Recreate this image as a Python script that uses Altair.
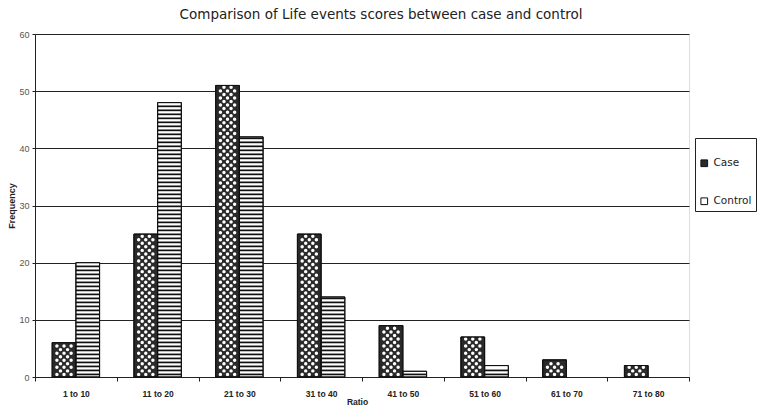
import altair as alt
import pandas as pd

# Life-event score bands and the number of subjects in each
categories = ["1 to 10", "11 to 20", "21 to 30", "31 to 40",
              "41 to 50", "51 to 60", "61 to 70", "71 to 80"]
case_freq = [6, 25, 51, 25, 9, 7, 3, 2]
control_freq = [20, 48, 42, 14, 1, 2, 0, 0]
series_names = ["Case", "Control"]

BAR_W = 0.29  # bar width in category units

# one row per bar, placed side by side around each category centre
rows = []
for i, (cat, a, b) in enumerate(zip(categories, case_freq, control_freq)):
    c = i + 0.5
    rows.append({"cat": cat, "series": "Case", "x0": c - BAR_W, "x1": c, "v": a})
    rows.append({"cat": cat, "series": "Control", "x0": c, "x1": c + BAR_W, "v": b})
bars = pd.DataFrame(rows)

# speckled fill for the Case bars: staggered white dots on a dark ground
dots = []
for r in rows:
    if r["series"] != "Case":
        continue
    k = 0
    y = 0.45
    while y < r["v"] - 0.3:
        fracs = [0.2, 0.5, 0.8] if k % 2 == 0 else [0.35, 0.65]
        for f in fracs:
            dots.append({"x": r["x0"] + f * BAR_W, "y": y})
        k += 1
        y += 0.62
dots = pd.DataFrame(dots)

# horizontal hatching for the Control bars
stripes = []
for r in rows:
    if r["series"] != "Control":
        continue
    y = 0.3
    while y + 0.3 < r["v"]:
        stripes.append({"x0": r["x0"], "x1": r["x1"], "y0": y, "y1": y + 0.3})
        y += 0.7
stripes = pd.DataFrame(stripes)

label_array = "[" + ",".join("'%s'" % c for c in categories) + "]"
x_values = [k / 2 for k in range(0, 17)]

x_scale = alt.Scale(domain=[0, 8], nice=False, zero=False)
y_scale = alt.Scale(domain=[0, 60], nice=False)

x_axis = alt.Axis(
    values=x_values,
    labelExpr="datum.value % 1 == 0.5 ? " + label_array + "[floor(datum.value)] : ''",
    tickOpacity={"condition": {"test": "datum.value % 1 == 0", "value": 1}, "value": 0},
    tickSize=4, tickColor="#222", domainColor="#222",
    labelFont="Liberation Sans", labelFontSize=8.5, labelFontWeight="bold",
    labelColor="#222", labelPadding=8, grid=False,
    title="Ratio", titleFont="Liberation Sans", titleFontSize=8.5,
    titleFontWeight="bold", titleColor="#222", titleX=322, titleY=20,
)
y_axis = alt.Axis(
    values=[0, 10, 20, 30, 40, 50, 60], tickSize=3, tickColor="#222",
    domainColor="#222", labelFont="Liberation Sans", labelFontSize=9,
    labelColor="#555", labelPadding=3,
    gridColor="#222", gridWidth=1,
    title="Frequency", titleFont="Liberation Sans", titleFontSize=9,
    titleFontWeight="bold", titleColor="#222", titlePadding=2,
)

fill_enc = alt.Fill(
    "series:N",
    scale=alt.Scale(domain=series_names, range=["#2a2a2a", "#ffffff"]),
    legend=alt.Legend(
        title=" ", titleFontSize=10, titlePadding=6,
        orient="none", legendX=660, legendY=104,
        symbolType="square", symbolSize=45, symbolStrokeColor="#111",
        symbolStrokeWidth=1, labelFont="DejaVu Sans", labelFontSize=10.5,
        labelColor="#222", rowPadding=26, padding=4, labelOffset=4,
        strokeColor="#222", fillColor="white",
    ),
)

# empty bands (zero counts) draw nothing
base_bars = alt.Chart(bars).transform_filter("datum.v > 0").mark_bar(
    stroke="#111", strokeWidth=1
).encode(
    x=alt.X("x0:Q", scale=x_scale, axis=x_axis),
    x2="x1:Q",
    y=alt.Y("v:Q", scale=y_scale, axis=y_axis),
    y2=alt.datum(0),
    fill=fill_enc,
)

dot_layer = alt.Chart(dots).mark_point(
    filled=True, shape="circle", size=12, color="white", opacity=1
).encode(
    x=alt.X("x:Q", scale=x_scale),
    y=alt.Y("y:Q", scale=y_scale),
)

stripe_layer = alt.Chart(stripes).mark_bar(color="#111").encode(
    x=alt.X("x0:Q", scale=x_scale),
    x2="x1:Q",
    y=alt.Y("y0:Q", scale=y_scale),
    y2="y1:Q",
)

outline = alt.Chart(bars).transform_filter("datum.v > 0").mark_bar(
    fill=None, stroke="#111", strokeWidth=1
).encode(
    x=alt.X("x0:Q", scale=x_scale),
    x2="x1:Q",
    y=alt.Y("v:Q", scale=y_scale),
    y2=alt.datum(0),
)

chart = alt.layer(base_bars, dot_layer, stripe_layer, outline).properties(
    width=654,
    height=343,
    title=alt.TitleParams(
        "Comparison of Life events scores between case and control",
        font="DejaVu Sans", fontSize=13.5, fontWeight="normal",
        color="#222", anchor="middle", dx=19, offset=9,
    ),
    autosize=alt.AutoSizeParams(type="none"),
    padding={"left": 35, "top": 34, "right": 69, "bottom": 28},
).configure_view(
    stroke="#666", strokeWidth=1
).configure(background="white")

chart.save("out.html", embed_options={"renderer": "svg", "actions": False})
